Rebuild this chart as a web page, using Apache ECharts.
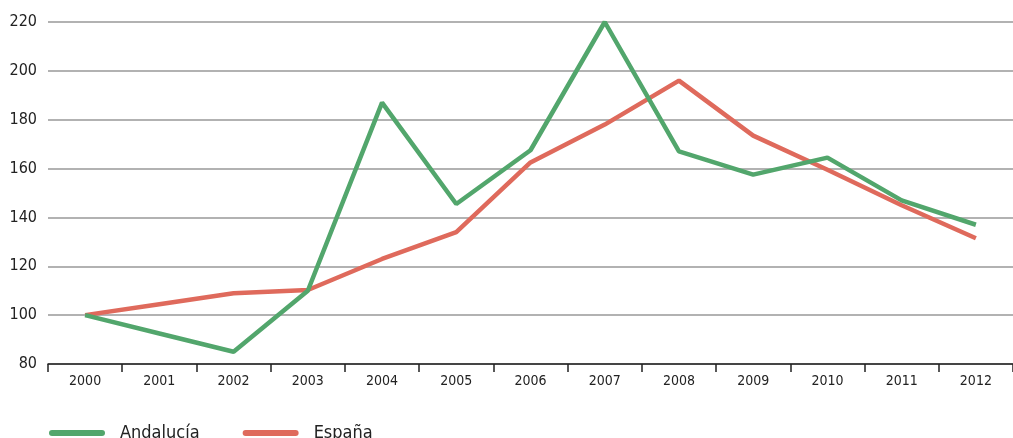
<!DOCTYPE html>
<html>
<head>
<meta charset="utf-8">
<script src="https://cdn.jsdelivr.net/npm/echarts@6/dist/echarts.min.js"></script>
<style>
  html, body { margin: 0; padding: 0; background: #fff; }
  #chart { width: 1013px; height: 438px; }
</style>
</head>
<body>
<div id="chart"></div>
<script>
// years on the x axis
const years = ['2000', '2001', '2002', '2003', '2004', '2005', '2006',
  '2007', '2008', '2009', '2010', '2011', '2012'];

// index values (2000 = 100)
const andalucia = [100, 92.5, 85, 110, 187, 145.5, 167.5, 220, 167, 157.5, 164.5, 147, 137];
const espana = [100, 104.5, 109, 110.3, 123, 134, 162.5, 178, 196, 173.5, 159.5, 145, 131.5];

const FONT = "'DejaVu Sans Condensed', 'Roboto', sans-serif";
const lineIcon = 'path://M3,0 L53,0 A3,3 0 0 1 53,6 L3,6 A3,3 0 0 1 3,0 Z';

const chart = echarts.init(document.getElementById('chart'));

chart.setOption({
  animation: false,
  grid: { left: 48, right: 0, top: 22, bottom: 74 },
  legend: {
    left: 44,
    top: 419,
    itemWidth: 56,
    itemHeight: 6,
    itemGap: 43,
    textStyle: { fontFamily: FONT, fontSize: 18, color: '#222', padding: [0, 0, 0, 10] },
    data: [
      { name: 'Andalucía', icon: lineIcon },
      { name: 'España', icon: lineIcon }
    ]
  },
  xAxis: {
    type: 'category',
    data: years,
    boundaryGap: true,
    axisLine: { lineStyle: { color: '#222', width: 1.5 } },
    axisTick: {
      show: true, length: 8,
      lineStyle: { color: '#222', width: 1.5 }
    },
    axisLabel: { fontFamily: FONT, fontSize: 14, color: '#222', margin: 10 },
    splitLine: { show: false }
  },
  yAxis: {
    type: 'value',
    min: 80,
    max: 220,
    interval: 20,
    axisLine: { show: false },
    axisTick: { show: false },
    axisLabel: { fontFamily: FONT, fontSize: 16, color: '#222', margin: 11 },
    splitLine: { lineStyle: { color: '#999', width: 1.5 } }
  },
  series: [
    {
      name: 'Andalucía',
      type: 'line',
      data: andalucia,
      symbol: 'none',
      z: 3,
      itemStyle: { color: '#52a66c' },
      lineStyle: { color: '#52a66c', width: 4.5 }
    },
    {
      name: 'España',
      type: 'line',
      data: espana,
      symbol: 'none',
      z: 2,
      itemStyle: { color: '#df6a5c' },
      lineStyle: { color: '#df6a5c', width: 4.5 }
    }
  ]
});
</script>
</body>
</html>
